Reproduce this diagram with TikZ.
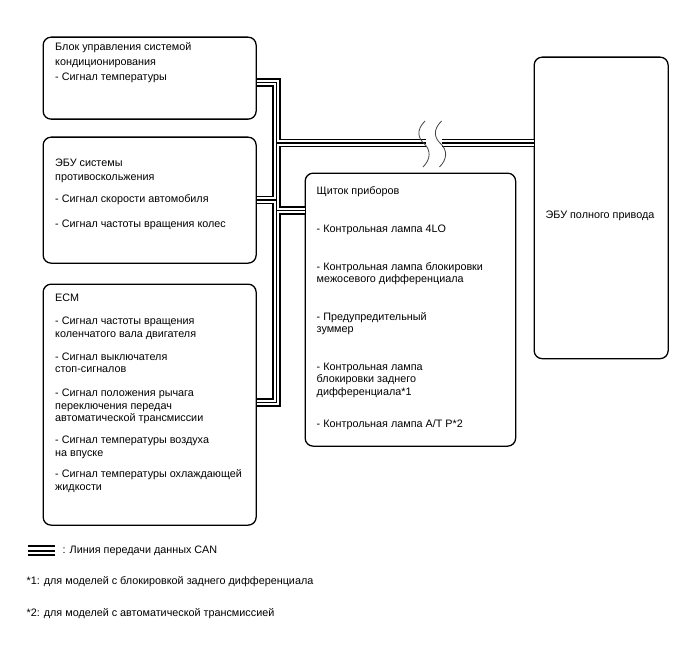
\documentclass[tikz,border=0pt]{standalone}
\usepackage{fontspec}
\setmainfont{Liberation Sans}
\newcommand\dfont{\fontsize{10.8}{13}\selectfont}
\begin{document}
\begin{tikzpicture}[x=1pt,y=-1pt,
  box/.style={draw, line width=1.3pt, rounded corners=8pt, rectangle, anchor=north west, inner sep=0pt},
  txt/.style={anchor=base west, inner sep=0pt, font=\dfont},
  busout/.style={line width=8.5pt, line join=miter},
  busmid/.style={white, line width=5.6pt, line join=miter},
  busin/.style={line width=1.3pt, line join=miter},
  brk/.style={line width=0.8pt, black!75},
]
\useasboundingbox (0,0) rectangle (688,658);

% boxes
\node[box, minimum width=213pt, minimum height=82pt]  (ac)  at (42.5,36.5) {};
\node[box, minimum width=213pt, minimum height=126pt] (abs) at (42.5,136.5) {};
\node[box, minimum width=213pt, minimum height=241pt] (ecm) at (42.5,283.5) {};
\node[box, minimum width=210.5pt, minimum height=273pt] (ip) at (304.5,172.5) {};
\node[box, minimum width=134pt, minimum height=301.5pt] (ecu) at (533.5,56.5) {};

% bus coordinates
\coordinate (t1) at (276.5,82.5);
\coordinate (t2) at (276.5,143);
\coordinate (t3) at (276.5,200);
\coordinate (t5) at (276.5,210.5);
\coordinate (t4) at (276.5,402.5);
\coordinate (g1) at (425.5,143);
\coordinate (g2) at (441.5,143);

\foreach \s in {busout,busmid,busin} {
  \draw[\s] (ac.east |- t1) -- (t1) -- (t4) -- (ecm.east |- t4);
  \draw[\s] (t2) -- (g1);
  \draw[\s] (g2) -- (ecu.west |- t2);
  \draw[\s] (abs.east |- t3) -- (t3);
  \draw[\s] (t5) -- (ip.west |- t5);
}

% break marks
\draw[brk] (425,121) .. controls (416,130) and (418,138) .. (424,143.5) .. controls (431,150) and (431,159) .. (423,167);
\draw[brk] (441.5,121) .. controls (432.5,130) and (434.5,138) .. (440.5,143.5) .. controls (447.5,150) and (447.5,159) .. (439.5,167);

% A/C box text
\node[txt] (a1) at (55,50.5) {Блок управления системой};
\node[txt] (a2) at (55,65.5) {кондиционирования};
\node[txt] (a3) at (55,80.5) {- Сигнал температуры};

% ABS box text
\node[txt] (s1) at (55,167) {ЭБУ системы};
\node[txt] (s2) at (55,180) {противоскольжения};
\node[txt] (s3) at (55,202) {- Сигнал скорости автомобиля};
\node[txt] (s4) at (55,227) {- Сигнал частоты вращения колес};

% ECM text
\node[txt] (e0) at (55,301.5) {ECM};
\node[txt] (e1) at (55,324.5) {- Сигнал частоты вращения};
\node[txt] (e2) at (55,337) {коленчатого вала двигателя};
\node[txt] (e3) at (55,360) {- Сигнал выключателя};
\node[txt] (e4) at (55,372.5) {стоп-сигналов};
\node[txt] (e5) at (55,396.5) {- Сигнал положения рычага};
\node[txt] (e6) at (55,409) {переключения передач};
\node[txt] (e7) at (55,421.5) {автоматической трансмиссии};
\node[txt] (e8) at (55,443.5) {- Сигнал температуры воздуха};
\node[txt] (e9) at (55,456) {на впуске};
\node[txt] (e10) at (55,477.5) {- Сигнал температуры охлаждающей};
\node[txt] (e11) at (55,490) {жидкости};

% instrument panel text
\node[txt] (i0) at (316.5,194) {Щиток приборов};
\node[txt] (i1) at (316.5,232) {- Контрольная лампа 4LO};
\node[txt] (i2) at (316.5,270) {- Контрольная лампа блокировки};
\node[txt] (i3) at (316.5,282.5) {межосевого дифференциала};
\node[txt] (i4) at (316.5,320) {- Предупредительный};
\node[txt] (i5) at (316.5,332.5) {зуммер};
\node[txt] (i6) at (316.5,370) {- Контрольная лампа};
\node[txt] (i7) at (316.5,382.5) {блокировки заднего};
\node[txt] (i8) at (316.5,395) {дифференциала*1};
\node[txt] (i9) at (316.5,427.5) {- Контрольная лампа A/T P*2};

% 4WD ECU text
\node[txt, anchor=base] (u1) at (600,218) {ЭБУ полного привода};

% legend
\coordinate (l1) at (28,550.6);
\coordinate (l2) at (55,550.6);
\draw[line width=10.5pt] (l1) -- (l2);
\draw[white, line width=6.5pt] (l1) -- (l2);
\draw[line width=2pt] (l1) -- (l2);
\node[txt] (lg) at (62.5,553) {: Линия передачи данных CAN};
\node[txt] (f1) at (26.5,584) {*1: для моделей с блокировкой заднего дифференциала};
\node[txt] (f2) at (26.5,616.5) {*2: для моделей с автоматической трансмиссией};
\end{tikzpicture}
\end{document}
